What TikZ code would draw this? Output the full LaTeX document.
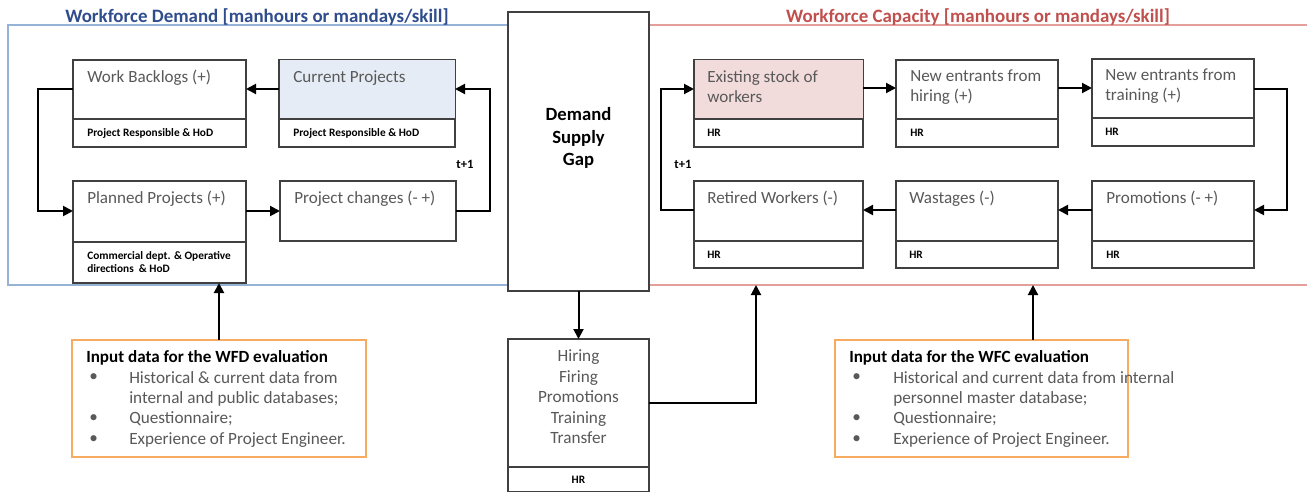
\documentclass[tikz,border=0pt]{standalone}
\usepackage{fontspec}
\setmainfont{Carlito}
\usetikzlibrary{arrows.meta}
\definecolor{boxc}{HTML}{404040}
\definecolor{txtc}{HTML}{595959}
\definecolor{bluet}{HTML}{2F4C8C}
\definecolor{redt}{HTML}{C0504D}
\definecolor{bluel}{HTML}{95B3D7}
\definecolor{redl}{HTML}{E3A09B}
\definecolor{cpfill}{HTML}{E5ECF5}
\definecolor{esfill}{HTML}{F2DCDB}
\definecolor{orangec}{HTML}{F7AB60}
\newcommand\bx[6][]{\node[boxst,#1,minimum width={(#5-#3)*0.75pt},minimum height={(#6-#4)*0.75pt}] (#2) at (#3,#4) {};}
\begin{document}
\begin{tikzpicture}[x=0.75pt,y=-0.75pt,
  boxst/.style={draw=boxc,line width=0.8pt,anchor=north west,inner sep=0pt,outer sep=0pt,fill=white},
  inbox/.style={draw=orangec,line width=2.2pt,anchor=north west,inner sep=0pt,outer sep=0pt,fill=white},
  ttl/.style={anchor=north west,inner sep=0pt,align=left,text=txtc,font=\fontsize{12.8}{15}\selectfont},
  sub/.style={anchor=west,inner sep=0pt,align=left,font=\bfseries\fontsize{8.5}{10}\selectfont},
  head/.style={anchor=west,inner sep=0pt,font=\bfseries\fontsize{14.2}{17}\selectfont},
  intxt/.style={anchor=west,inner sep=0pt,text=txtc,font=\fontsize{12.9}{15}\selectfont},
  inhead/.style={anchor=west,inner sep=0pt,font=\bfseries\fontsize{12.8}{15}\selectfont},
  arr/.style={line width=1.5pt,-{Triangle[length=7.5pt,width=7.5pt]}},
  frm/.style={line width=1pt},
  dv/.style={draw=boxc,line width=0.8pt},
  tl/.style={inner sep=0pt,font=\bfseries\fontsize{9.5}{11}\selectfont}
]
\useasboundingbox (0,0) rectangle (1307,492);
% frames
\draw[frm,draw=bluel] (508,25) -- (8,25) -- (8,285) -- (508,285);
\draw[frm,draw=redl] (649,25) -- (1307,25);
\draw[frm,draw=redl] (649,285) -- (1307,285);
\node[head,anchor=center,text=bluet] (tD) at (257,17) {Workforce Demand [manhours or mandays/skill]};
\node[head,anchor=center,text=redt] (tC) at (978,17) {Workforce Capacity [manhours or mandays/skill]};
% left boxes
\bx{wb}{73}{60}{246}{147}
\bx{cp}{279}{60}{455}{147}
\bx{pp}{73}{181}{246}{283}
\bx{pc}{280}{181}{456}{241}
\fill[cpfill] (279.5,60.5) rectangle (454.5,119);
\draw[dv] (73,119) -- (246,119);
\draw[dv] (279,119) -- (455,119);
\draw[dv] (73,242) -- (246,242);
\node[ttl] (wbt) at (87,70) {Work Backlogs (+)};
\node[ttl] (cpt) at (293,70) {Current Projects};
\node[ttl] (ppt) at (87,191) {Planned Projects (+)};
\node[ttl] (pct) at (294,191) {Project changes (- +)};
\node[sub] (wbs) at (87,133) {Project Responsible \& HoD};
\node[sub] (cps) at (293,133) {Project Responsible \& HoD};
\node[sub] (pps) at (87,262) {Commercial dept. \& Operative\\directions~ \& HoD};
% right boxes
\bx{es}{694}{60}{863}{147}
\bx{nh}{896}{60}{1058}{147}
\bx{nt}{1092}{59}{1254}{146}
\bx{rw}{694}{181}{863}{268}
\bx{wa}{896}{181}{1058}{268}
\bx{pr}{1092}{181}{1254}{268}
\fill[esfill] (694.5,60.5) rectangle (862.5,119);
\draw[dv] (694,119) -- (863,119);
\draw[dv] (896,119) -- (1058,119);
\draw[dv] (1092,118) -- (1254,118);
\draw[dv] (694,241) -- (863,241);
\draw[dv] (896,241) -- (1058,241);
\draw[dv] (1092,241) -- (1254,241);
\node[ttl] (est) at (707,70) {Existing stock of\\workers};
\node[ttl] (nht) at (910,70) {New entrants from\\hiring (+)};
\node[ttl] (ntt) at (1105,69) {New entrants from\\training (+)};
\node[ttl] (rwt) at (707,191) {Retired Workers (-)};
\node[ttl] (wat) at (909,191) {Wastages (-)};
\node[ttl] (prt) at (1106,191) {Promotions (- +)};
\node[sub] (ess) at (707,133) {HR};
\node[sub] (nhs) at (910,133) {HR};
\node[sub] (nts) at (1105,132) {HR};
\node[sub] (rws) at (707,255) {HR};
\node[sub] (was) at (909,255) {HR};
\node[sub] (prs) at (1106,255) {HR};
% middle
\bx{gap}{508}{12}{649}{291}
\node[align=center,inner sep=0pt,font=\bfseries\fontsize{14}{17}\selectfont] (gapt) at (578.5,138) {Demand\\Supply\\Gap};
\bx{hire}{508}{339}{649}{491.5}
\draw[dv] (508,467) -- (649,467);
\node[align=center,inner sep=0pt,text=txtc,font=\fontsize{12.9}{15.4}\selectfont] (hiret) at (578.5,397) {Hiring\\Firing\\Promotions\\Training\\Transfer};
\node[sub,anchor=center] (hires) at (578.5,480) {HR};
% input boxes
\node[inbox,minimum width={294*0.75pt},minimum height={117*0.75pt}] (wfd) at (72,340) {};
\node[inbox,minimum width={293*0.75pt},minimum height={117*0.75pt}] (wfc) at (835,340) {};
\node[inhead] (wfdh) at (86,358) {Input data for the WFD evaluation};
\node[intxt] (wfdb1) at (89,378) {•};
\node[intxt] (wfd1) at (129,378) {Historical \& current data from};
\node[intxt] (wfd1b) at (129,399) {internal and public databases;};
\node[intxt] (wfdb2) at (89,419) {•};
\node[intxt] (wfd2) at (129,419) {Questionnaire;};
\node[intxt] (wfdb3) at (89,440) {•};
\node[intxt] (wfd3) at (129,440) {Experience of Project Engineer.};
\node[inhead] (wfch) at (849,358) {Input data for the WFC evaluation};
\node[intxt] (wfcb1) at (852,378) {•};
\node[intxt] (wfc1) at (893,378) {Historical and current data from internal};
\node[intxt] (wfc1b) at (893,399) {personnel master database;};
\node[intxt] (wfcb2) at (852,419) {•};
\node[intxt] (wfc2) at (893,419) {Questionnaire;};
\node[intxt] (wfcb3) at (852,440) {•};
\node[intxt] (wfc3) at (893,440) {Experience of Project Engineer.};
% t+1 labels
\node[tl] (t1l) at (465,164) {t+1};
\node[tl] (t1r) at (683,164) {t+1};
% connectors left
\draw[arr] (cp.west |- 0,89) -- (wb.east |- 0,89);
\draw[arr] (wb.west |- 0,89) -| (38,150) |- (pp.west |- 0,211);
\draw[arr] (pp.east |- 0,211) -- (pc.west |- 0,211);
\draw[arr] (pc.east |- 0,211) -| (490,150) |- (cp.east |- 0,89);
% connectors right
\draw[arr] (es.east |- 0,88) -- (nh.west |- 0,88);
\draw[arr] (nh.east |- 0,88) -- (nt.west |- 0,88);
\draw[arr] (nt.east |- 0,89) -| (1287,150) |- (pr.east |- 0,210);
\draw[arr] (pr.west |- 0,210) -- (wa.east |- 0,210);
\draw[arr] (wa.west |- 0,210) -- (rw.east |- 0,210);
\draw[arr] (rw.west |- 0,210) -| (661,150) |- (es.west |- 0,89);
% middle connectors
\coordinate (hirein) at (756,285);
\coordinate (wfcin) at (1033,285);
\draw[arr] (gap.south) -- (hire.north);
\draw[arr] (hire.east |- 0,403) -| (hirein);
\draw[arr] (wfd.north) -- (wfd.north |- pp.south);
\draw[arr] (wfc.north -| wfcin) -- (wfcin);
\end{tikzpicture}
\end{document}
